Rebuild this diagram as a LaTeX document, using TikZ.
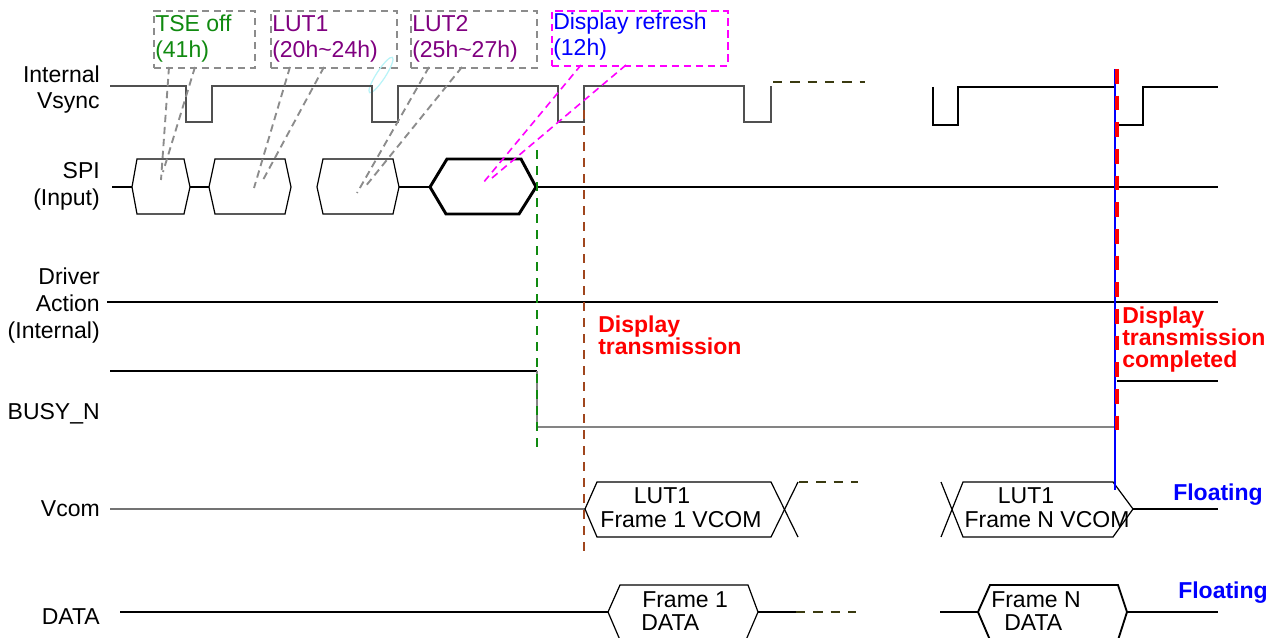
\documentclass[tikz,border=0pt]{standalone}
\usepackage{fontspec}
\setmainfont{Liberation Sans}
\definecolor{sigc}{HTML}{505050}
\definecolor{graydash}{HTML}{8C8C8C}
\definecolor{tsegreen}{HTML}{108A10}
\definecolor{lutpurple}{HTML}{800080}
\definecolor{refblue}{HTML}{0000FF}
\definecolor{refmag}{HTML}{FF00FF}
\definecolor{trred}{HTML}{FF0000}
\definecolor{brownd}{HTML}{A0461E}
\definecolor{olived}{HTML}{3A3A10}
\definecolor{loopcyan}{HTML}{B8F4F8}
\begin{document}
\begin{tikzpicture}[x=0.75pt,y=-0.75pt,
  every node/.style={inner sep=0pt,font=\fontsize{17.25}{20}\selectfont},
  lbl/.style={anchor=base east,align=right},
  txtl/.style={anchor=base west,align=left},
  boldtxt/.style={anchor=base west,align=left,font=\fontsize{17.25}{16.5}\selectfont\bfseries},
  sigline/.style={line width=1pt,draw=sigc},
  darkline/.style={line width=0.9pt,draw=black},
  boldline/.style={line width=1.6pt,draw=black},
  callbox/.style={draw=graydash,line width=1.4pt,dash pattern=on 5.5pt off 3.5pt},
  leader/.style={draw=graydash,line width=1.4pt,dash pattern=on 5.5pt off 3.5pt},
  refleader/.style={draw=refmag,line width=1.2pt,dash pattern=on 5.5pt off 3.5pt},
  olivedash/.style={draw=olived,line width=1.6pt,dash pattern=on 7pt off 6pt},
  greendash/.style={draw=tsegreen,line width=2.2pt,dash pattern=on 7pt off 5pt},
  browndash/.style={draw=brownd,line width=2pt,dash pattern=on 7pt off 5pt},
  reddash/.style={draw=trred,line width=3pt,dash pattern=on 11pt off 9pt},
  blueline/.style={draw=refblue,line width=2.2pt}
]
\useasboundingbox (0,0) rectangle (1280,638);
\fill[white] (0,0) rectangle (1280,638);

% ---------- left labels (base = last line) ----------
\node[lbl] (lvs) at (100,109) {Internal\\Vsync};
\node[lbl] (lspi) at (100,205) {SPI\\(Input)};
\node[lbl] (ldrv) at (100,338) {Driver\\Action\\(Internal)};
\node[lbl] (lbusy) at (100,419) {BUSY\_N};
\node[lbl] (lvcom) at (100,516) {Vcom};
\node[lbl] (ldata) at (100,624) {DATA};

% ---------- callout boxes ----------
\node[callbox,anchor=north west,minimum width=75.75pt,minimum height=42.75pt] (tsebox) at (153,10) {};
\node[callbox,anchor=north west,minimum width=94.5pt,minimum height=42.75pt] (lut1box) at (270,10) {};
\node[callbox,anchor=north west,minimum width=94.5pt,minimum height=42.75pt] (lut2box) at (410,10) {};
\node[refleader,anchor=north west,minimum width=132pt,minimum height=41.25pt] (refbox) at (551,10) {};
\node[txtl,text=tsegreen] (tset) at (155,58) {TSE off\\(41h)};
\node[txtl,text=lutpurple] (lut1t) at (272,58) {LUT1\\(20h\textasciitilde 24h)};
\node[txtl,text=lutpurple] (lut2t) at (412,58) {LUT2\\(25h\textasciitilde 27h)};
\node[txtl,text=refblue] (reft) at (553,56) {Display refresh\\(12h)};

% cyan stray loop
\draw[loopcyan,line width=0.9pt] (381,75) ellipse [x radius=21, y radius=4.5, rotate=57];

% ---------- Internal Vsync ----------
\draw[sigline] (110,86) -- (186,86) -- (186,122) -- (212,122) -- (212,86) -- (372,86) -- (372,122) -- (398,122) -- (398,86)
  -- (558,86) -- (558,122) -- (584,122) -- (584,86) -- (744,86) -- (744,122) -- (771,122) -- (771,86);
\draw[olivedash] (773,82) -- (865,82);
\draw[boldline] (933,87) -- (933,125) -- (958,125) -- (958,87) -- (1115,87) -- (1115,125) -- (1143,125) -- (1143,87) -- (1218,87);

% ---------- SPI ----------
\draw[darkline] (112,187) -- (132,187);
\draw[darkline] (132,187) -- (137,159) -- (184,159) -- (190,187) -- (184,214) -- (137,214) -- cycle;
\draw[darkline] (190,187) -- (209,187);
\draw[darkline] (209,187) -- (215,159) -- (285,159) -- (291,187) -- (285,214) -- (215,214) -- cycle;
\draw[darkline] (317,187) -- (323,159) -- (393,159) -- (399,187) -- (393,214) -- (323,214) -- cycle;
\draw[darkline] (399,187) -- (430,187);
\draw[black,line width=2.2pt,line join=miter] (430,187) -- (447,159) -- (521,159) -- (536,187) -- (519,214) -- (446,214) -- cycle;
\draw[darkline] (536,187) -- (1218,187);

% SPI targets for leaders
\coordinate (tsetip) at (161,180);
\coordinate (lut1tip) at (254,188);
\coordinate (lut2tip) at (357,193);
\coordinate (reftip) at (483,183);
\draw[leader] (169,67) -- (tsetip);
\draw[leader] (195,67) -- (163,172);
\draw[leader] (290,67) -- (lut1tip);
\draw[leader] (324,67) -- (263,180);
\draw[leader] (429,67) -- (lut2tip);
\draw[leader] (462,67) -- (365,187);
\draw[refleader] (581,65) -- (reftip);
\draw[refleader] (626,65) -- (492,178);

% ---------- Driver action ----------
\draw[darkline] (107,302) -- (1218,302);

% ---------- BUSY_N ----------
\draw[darkline] (110,371) -- (537,371);
\draw[sigline,line width=1.4pt,draw=sigc!70] (537,371) -- (537,427) -- (1115,427);
\draw[boldline] (1117,381) -- (1218,381);

% ---------- Vcom ----------
\draw[sigline,draw=sigc!80] (110,509) -- (585,509);
\draw[darkline] (585,509) -- (597,482) -- (771,482) -- (798,537);
\draw[darkline] (585,509) -- (597,537) -- (771,537) -- (798,482);
\draw[olivedash] (799,482) -- (858,482);
\node[anchor=base,text=black] (v1a) at (662,503) {LUT1};
\node[anchor=base,text=black] (v1b) at (681,527) {Frame 1 VCOM};
\draw[darkline] (941,482) -- (963,537) -- (1113,537) -- (1133,509) -- (1113,482) -- (963,482) -- (941,537);
\draw[boldline] (1133,509) -- (1218,509);
\node[anchor=base,text=black] (vna) at (1026,503) {LUT1};
\node[anchor=base,text=black] (vnb) at (1047,527) {Frame N VCOM};

% ---------- DATA ----------
\draw[darkline] (120,612) -- (608,612);
\draw[darkline] (608,612) -- (620,585) -- (748,585) -- (758,612) -- (746,640) -- (620,640) -- cycle;
\draw[darkline] (758,612) -- (796,612);
\draw[olivedash] (796,612) -- (856,612);
\node[txtl] (d1) at (642,607) {Frame 1};
\node[txtl] (d1b) at (641,630) {DATA};
\draw[boldline] (940,612) -- (978,612);
\draw[boldline,line width=1.4pt] (978,612) -- (990,585) -- (1118,585) -- (1127,612) -- (1118,640) -- (990,640) -- cycle;
\draw[boldline] (1127,612) -- (1218,612);
\node[txtl] (dn) at (991,607) {Frame N};
\node[txtl] (dnb) at (1004,630) {DATA};

% ---------- markers ----------
\coordinate (gtop) at (537,150);
\coordinate (gbot) at (537,452);
\draw[greendash] (gtop) -- (gbot);
\coordinate (btop) at (584,110);
\coordinate (bbot) at (584,555);
\draw[browndash] (btop) -- (bbot);
\coordinate (bltop) at (1115,69);
\coordinate (blbot) at (1115,490);
\draw[blueline] (bltop) -- (blbot);
\coordinate (rtop) at (1117,69);
\coordinate (rbot) at (1117,442);
\draw[reddash] (rtop) -- (rbot);

\node[boldtxt,text=trred] (dtr) at (598,354) {Display\\transmission};
\node[boldtxt,text=trred] (dtrc) at (1122,367) {Display\\transmission\\completed};
\node[anchor=base west,font=\fontsize{17.25}{20}\selectfont\bfseries,text=refblue] (fl1) at (1173,500) {Floating};
\node[anchor=base west,font=\fontsize{17.25}{20}\selectfont\bfseries,text=refblue] (fl2) at (1178,598) {Floating};
\end{tikzpicture}
\end{document}
